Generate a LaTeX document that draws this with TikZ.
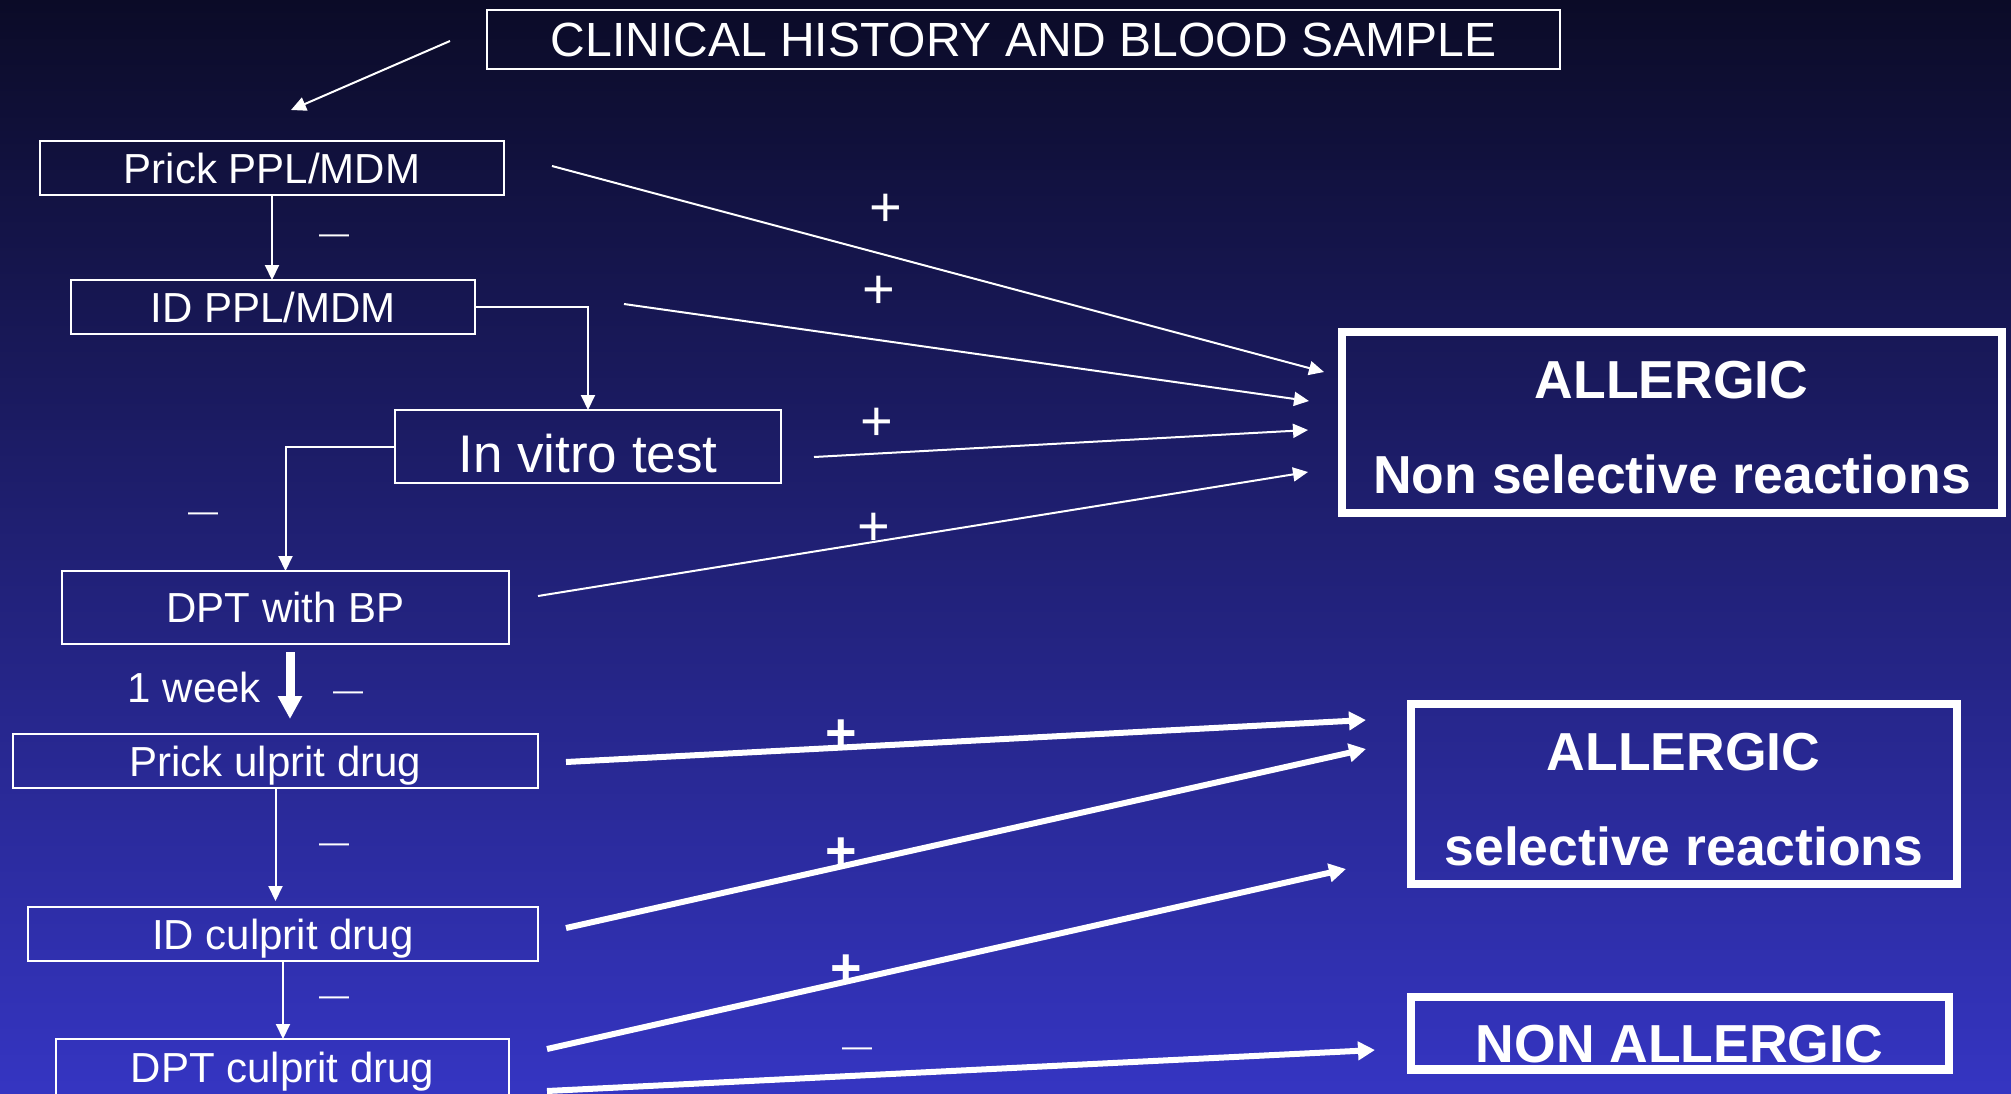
\documentclass[tikz,border=0pt]{standalone}
\usepackage{fontspec}
\setmainfont{Liberation Sans}
\usetikzlibrary{arrows.meta,calc}
\definecolor{bgtop}{HTML}{0B0B27}
\definecolor{bgmid}{HTML}{222287}
\definecolor{bgbot}{HTML}{3535C2}
\newcommand{\fsz}[1]{\fontsize{#1}{#1}\selectfont}

\begin{document}
\begin{tikzpicture}[x=1pt,y=-1pt,
  every node/.style={text=white, inner sep=0pt, outer sep=0pt},
  stepbox/.style={draw=white, line width=2pt, font=\fsz{42}, text height=30.1pt, text depth=0pt},
  steptext/.style={font=\fsz{42}, text height=30.1pt, text depth=0pt},
  result/.style={draw=white, line width=8.5pt},
  restext/.style={font=\bfseries\fsz{53.5}, text height=38.3pt, text depth=0pt},
  minuslbl/.style={font=\fsz{30}, text height=16pt, text depth=0pt},
  pluslbl/.style={font=\fsz{56}, text height=39.6pt, text depth=0pt},
  lead/.style={draw=white, line width=2pt, -{Triangle[length=15pt,width=14pt]}},
  heavy/.style={draw=white, line width=6pt, -{Triangle[length=17pt,width=18pt]}},
  heavyshaft/.style={draw=white, line width=9pt, -{Triangle[length=23pt,width=23pt]}},
]
\useasboundingbox (0,0) rectangle (2011,1093);
\clip (0,0) rectangle (2011,1093);
\shade[top color=bgtop, middle color=bgmid, bottom color=bgbot] (0,0) rectangle (2011,1093);

% test steps
\node[stepbox, font=\fsz{48}, text height=34.4pt, minimum width=1073pt, minimum height=59pt] (head) at (1023.5,39.5) {CLINICAL HISTORY AND BLOOD SAMPLE};
\node[stepbox, minimum width=464pt, minimum height=54pt] (p1) at (272,168) {Prick PPL/MDM};
\node[stepbox, minimum width=404pt, minimum height=54pt] (p2) at (273,307) {ID PPL/MDM};
\node[stepbox, font=\fsz{53}, text height=52.9pt, minimum width=386pt, minimum height=73pt] (iv) at (588,446.5) {In vitro test};
\node[stepbox, minimum width=447pt, minimum height=73pt] (dbp) at (285.5,607.5) {DPT with BP};
\node[stepbox, minimum width=525pt, minimum height=54pt] (pc) at (275.5,761) {Prick ulprit drug};
\node[stepbox, minimum width=510pt, minimum height=54pt] (ic) at (283,934) {ID culprit drug};
\node[stepbox, minimum width=453pt, minimum height=56pt] (dc) at (282.5,1067) {DPT culprit drug};

% outcomes
\node[result, minimum width=660pt, minimum height=181pt] (nsel) at (1672,422.5) {};
\node[restext] (nselA) at (1671.5,379.5) {ALLERGIC};
\node[restext] (nselB) at (1672,474.5) {Non selective reactions};
\node[result, minimum width=546pt, minimum height=180pt] (sel) at (1684,794) {};
\node[restext] (selA) at (1683.5,751) {ALLERGIC};
\node[restext] (selB) at (1684,846.5) {selective reactions};
\node[result, minimum width=538pt, minimum height=72.5pt] (non) at (1680,1033.25) {};
\node[restext] (nonA) at (1679.5,1043.5) {NON ALLERGIC};

% free arrow ends
\coordinate (hsEnd) at (291,110);
\coordinate (e1) at (1324,372);
\coordinate (e2) at (1309,401);
\coordinate (e3) at (1308,430);
\coordinate (e4) at (1308,472);
\coordinate (f1) at (1366,720);
\coordinate (f2) at (1366,749);
\coordinate (f3) at (1346,869);
\coordinate (f4) at (1375,1050);

% left-hand sequence
\draw[lead] ($(head.west)+(-37,1.5)$) -- (hsEnd);
\draw[lead] (p1.south) -- (p1.south |- p2.north);
\draw[lead] (p2.east) -| (iv.north);
\draw[lead] (iv.west) -| (dbp.north);
\draw[heavyshaft] ($(dbp.south)+(4.5,8)$) -- ($(pc.north)+(14.5,-15)$);
\draw[lead, shorten >=6pt] (pc.south) -- (pc.south |- ic.north);
\draw[lead] (ic.south) -- (ic.south |- dc.north);

% positive results
\draw[lead] ($(p1.east)+(48,-2)$) -- (e1);
\draw[lead] ($(p2.east)+(149,-3)$) -- (e2);
\draw[lead] ($(iv.east)+(33,10.5)$) -- (e3);
\draw[lead] ($(dbp.east)+(29,-11.5)$) -- (e4);
\draw[heavy] ($(pc.east)+(28,1)$) -- (f1);
\draw[heavy] ($(ic.east)+(28,-6)$) -- (f2);
\draw[heavy] ($(dc.east)+(38,-18)$) -- (f3);
\draw[heavy] ($(dc.east)+(38,24)$) -- (f4);

% signs
\node[minuslbl] (m1) at (334,235) {\textemdash};
\node[minuslbl] (m2) at (203,513) {\textemdash};
\node[minuslbl] (m3) at (348,692) {\textemdash};
\node[minuslbl] (m4) at (334,844) {\textemdash};
\node[minuslbl] (m5) at (334,997) {\textemdash};
\node[minuslbl] (m6) at (857,1048) {\textemdash};
\node[steptext] (wk) at (194.5,687) {1 week};
\node[pluslbl] (s1) at (886,207) {+};
\node[pluslbl] (s2) at (879,289) {+};
\node[pluslbl] (s3) at (877,421) {+};
\node[pluslbl] (s4) at (874,526) {+};
\node[pluslbl, font=\bfseries\fsz{54}] (s5) at (841,732) {+};
\node[pluslbl, font=\bfseries\fsz{54}] (s6) at (841,850) {+};
\node[pluslbl, font=\bfseries\fsz{54}] (s7) at (846,967) {+};
\end{tikzpicture}
\end{document}
